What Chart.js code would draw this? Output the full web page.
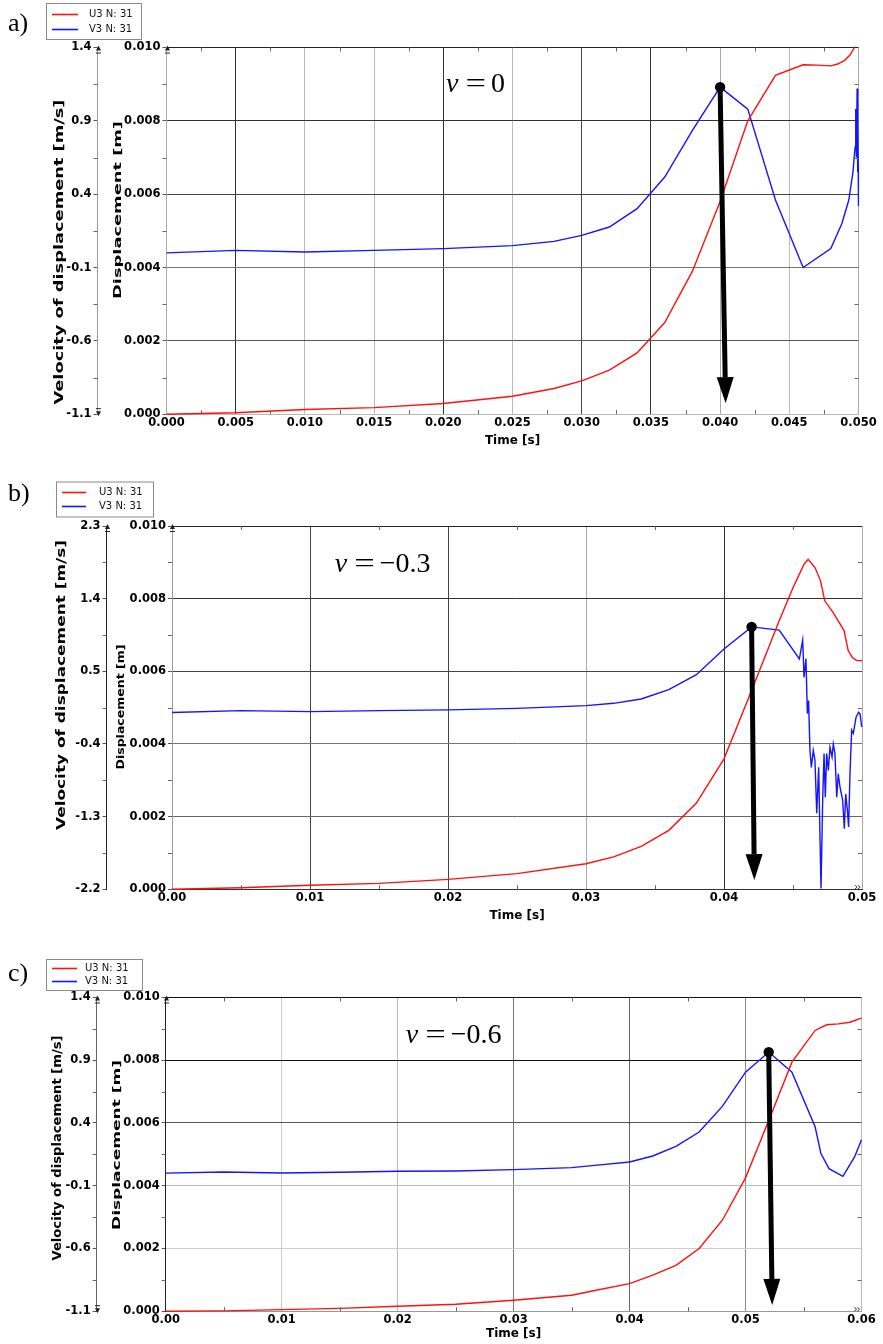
<!DOCTYPE html>
<html>
<head>
<meta charset="utf-8">
<title>U3 / V3 time histories</title>
<script src="https://cdn.jsdelivr.net/npm/chart.js@4/dist/chart.umd.min.js"></script>
<style>
  html,body{margin:0;padding:0;background:#fff;}
  body{width:883px;height:1344px;position:relative;overflow:hidden;}
  canvas{position:absolute;left:0;display:block;}
</style>
</head>
<body>
<canvas id="chartA" width="883" height="460" style="top:0"></canvas>
<canvas id="chartB" width="883" height="480" style="top:460px"></canvas>
<canvas id="chartC" width="883" height="404" style="top:940px"></canvas>
<script>
/* U3 (displacement) and V3 (velocity) vs time, three Poisson ratios */

const seriesLabels = ['U3 N: 31', 'V3 N: 31'];
const dispTicks = [0, 0.002, 0.004, 0.006, 0.008, 0.010];

// a) nu = 0
const timeTicksA = [0, 0.005, 0.010, 0.015, 0.020, 0.025, 0.030, 0.035, 0.040, 0.045, 0.050];
const velTicksA = [-1.1, -0.6, -0.1, 0.4, 0.9, 1.4];
const timeA_U3 = [0, 0.005, 0.010, 0.015, 0.020, 0.025, 0.028, 0.030, 0.032, 0.034, 0.036, 0.038, 0.040, 0.042, 0.044, 0.046, 0.047, 0.048, 0.0485, 0.049, 0.0494, 0.0497, 0.050];
const dispA_U3 = [0, 0.00004, 0.00013, 0.00018, 0.00029, 0.00049, 0.0007, 0.00091, 0.0012, 0.00167, 0.0025, 0.0039, 0.0058, 0.0080, 0.00924, 0.00953, 0.00952, 0.0095, 0.00955, 0.00965, 0.0098, 0.0100, 0.0104];
const timeA_V3 = [0, 0.005, 0.010, 0.015, 0.020, 0.025, 0.028, 0.030, 0.032, 0.034, 0.036, 0.038, 0.040, 0.042, 0.044, 0.046, 0.048, 0.0488, 0.0493, 0.0496, 0.04975, 0.0498, 0.04985, 0.0499, 0.04993, 0.04996, 0.04998, 0.0500];
const velA_V3 = [0.0, 0.017, 0.006, 0.017, 0.029, 0.049, 0.078, 0.119, 0.176, 0.301, 0.517, 0.835, 1.13, 0.98, 0.36, -0.10, 0.03, 0.2, 0.36, 0.55, 0.72, 0.98, 0.65, 1.12, 0.55, 0.9, 0.6, 0.32];

// b) nu = -0.3
const timeTicksB = [0, 0.01, 0.02, 0.03, 0.04, 0.05];
const velTicksB = [-2.2, -1.3, -0.4, 0.5, 1.4, 2.3];
const timeB_U3 = [0, 0.005, 0.010, 0.015, 0.020, 0.025, 0.030, 0.032, 0.034, 0.036, 0.038, 0.040, 0.042, 0.044, 0.045, 0.0458, 0.0461, 0.0466, 0.047, 0.0473, 0.0479, 0.0487, 0.049, 0.0493, 0.0496, 0.050];
const dispB_U3 = [0, 0.00004, 0.00011, 0.00016, 0.00027, 0.00043, 0.0007, 0.00089, 0.00118, 0.00162, 0.00237, 0.00359, 0.00547, 0.00739, 0.0083, 0.00895, 0.00908, 0.00885, 0.00849, 0.00794, 0.00762, 0.00712, 0.00657, 0.00638, 0.0063, 0.00629];
const timeB_V3 = [0, 0.005, 0.010, 0.015, 0.020, 0.025, 0.030, 0.032, 0.034, 0.036, 0.038, 0.040, 0.042, 0.044, 0.04546, 0.0457, 0.0458, 0.04594, 0.04604, 0.04613, 0.04623, 0.04633, 0.04647, 0.04659, 0.04672, 0.04686, 0.04696, 0.04703, 0.04715, 0.04725, 0.04734, 0.04744, 0.04756, 0.04768, 0.04783, 0.04792, 0.04804, 0.04817, 0.04828, 0.04841, 0.0486, 0.04872, 0.04882, 0.04894, 0.04903, 0.04913, 0.04925, 0.04937, 0.04957, 0.04976, 0.04986, 0.04998];
const velB_V3 = [-0.01, 0.013, 0.0, 0.013, 0.022, 0.041, 0.075, 0.103, 0.157, 0.273, 0.458, 0.776, 1.05, 1.01, 0.652, 0.887, 0.425, 0.656, -0.024, 0.137, -0.48, -0.69, -0.48, -0.6, -1.26, -0.69, -1.59, -2.19, -1.1, -0.52, -1.06, -0.52, -0.73, -0.44, -0.56, -0.4, -0.52, -1.06, -0.77, -0.94, -1.1, -1.45, -1.02, -1.22, -1.43, -0.77, -0.23, -0.27, -0.07, -0.008, -0.03, -0.19];

// c) nu = -0.6
const timeTicksC = [0, 0.01, 0.02, 0.03, 0.04, 0.05, 0.06];
const velTicksC = [-1.1, -0.6, -0.1, 0.4, 0.9, 1.4];
const timeC_U3 = [0, 0.005, 0.010, 0.015, 0.020, 0.025, 0.030, 0.035, 0.037, 0.040, 0.042, 0.044, 0.046, 0.048, 0.050, 0.052, 0.054, 0.056, 0.057, 0.058, 0.059, 0.060];
const dispC_U3 = [0, 0.00001, 0.00005, 0.00009, 0.00016, 0.00022, 0.00035, 0.00051, 0.00066, 0.00088, 0.00115, 0.00146, 0.0020, 0.0029, 0.00425, 0.00608, 0.00794, 0.00895, 0.00913, 0.00916, 0.00921, 0.00934];
const timeC_V3 = [0, 0.005, 0.010, 0.015, 0.020, 0.025, 0.030, 0.035, 0.037, 0.040, 0.042, 0.044, 0.046, 0.048, 0.050, 0.052, 0.054, 0.056, 0.0565, 0.0572, 0.0584, 0.0594, 0.060];
const velC_V3 = [0.0, 0.009, 0.001, 0.007, 0.015, 0.017, 0.028, 0.044, 0.062, 0.089, 0.137, 0.214, 0.328, 0.532, 0.805, 0.965, 0.805, 0.37, 0.156, 0.036, -0.025, 0.129, 0.267];

const nuLabels = ['0', '\u22120.3', '\u22120.6'];

const RED = '#ff1010';
const BLUE = '#1414ff';
const TICK_FONT = {family:'"DejaVu Sans"', weight:'bold', size:11.5};
const TITLE_FONT = {family:'"DejaVu Sans"', weight:'bold', size:12};
const VEL_TITLE = 'Velocity of displacement [m/s]';
const DISP_TITLE = 'Displacement [m]';

function pts(ts, vs){
  return ts.map((t,i)=>({x:t, y:vs[i]}));
}

function halfSteps(ticks){
  const out = [];
  for(let i=0;i<ticks.length-1;i++) out.push((ticks[i]+ticks[i+1])/2);
  return out;
}

// tiny arrowhead at the end of an axis line, dir -1 = up, 1 = down
function axisEnd(c, x, y, dir){
  c.beginPath();
  c.moveTo(x, y + dir*2);
  c.lineTo(x - 2.5, y - dir*3);
  c.lineTo(x + 2.5, y - dir*3);
  c.closePath();
  c.fill();
  c.beginPath();
  c.moveTo(x - 2.5, y - dir*5.5); c.lineTo(x + 2.5, y - dir*5.5);
  c.stroke();
}

// rotated axis title, stretched along its length to a given span
function sideTitle(c, text, x, yMid, size, span){
  c.save();
  c.font = 'bold ' + size + 'px "DejaVu Sans"';
  const k = span / c.measureText(text).width;
  c.translate(x, yMid);
  c.rotate(-Math.PI/2);
  c.scale(k, 1);
  c.textAlign = 'center';
  c.textBaseline = 'middle';
  c.fillStyle = '#000';
  c.fillText(text, 0, 0);
  c.restore();
}

function decor(p){
  return {
    id:'decor',
    afterDraw(chart){
      const c = chart.ctx, a = chart.chartArea;
      const sx = chart.scales.x, sd = chart.scales.yd, sv = chart.scales.yv;
      c.save();

      // minor ticks on all four sides of the frame and on both axis lines
      c.strokeStyle = '#666'; c.lineWidth = 1;
      c.beginPath();
      halfSteps(p.timeTicks).forEach(t=>{
        const px = Math.round(sx.getPixelForValue(t)) + .5;
        c.moveTo(px, a.bottom); c.lineTo(px, a.bottom - 4);
        c.moveTo(px, a.top); c.lineTo(px, a.top + 4);
      });
      halfSteps(dispTicks).forEach(d=>{
        const py = Math.round(sd.getPixelForValue(d)) + .5;
        c.moveTo(a.right, py); c.lineTo(a.right - 4, py);
        c.moveTo(a.left, py); c.lineTo(a.left - 4, py);
        c.moveTo(sv.right, py); c.lineTo(sv.right - 4, py);
      });
      c.stroke();

      c.fillStyle = '#222'; c.strokeStyle = '#222';
      axisEnd(c, Math.round(sv.right)+.5, a.top, -1);
      axisEnd(c, Math.round(a.left)+.5, a.top, -1);
      if(p.velDownMark) axisEnd(c, Math.round(sv.right)+.5, a.bottom, 1);
      if(p.timeEndMark){
        c.lineWidth = 1;
        c.beginPath();
        [0, 3].forEach(o=>{
          c.moveTo(a.right - 7 + o, a.bottom - 4);
          c.lineTo(a.right - 5 + o, a.bottom - 2);
          c.lineTo(a.right - 7 + o, a.bottom);
        });
        c.stroke();
      }

      // axis titles on the two left scales
      const T = p.titles;
      sideTitle(c, VEL_TITLE, T.velX, T.velMid, T.velSize, T.velSpan);
      sideTitle(c, DISP_TITLE, T.dispX, T.dispMid, T.dispSize, T.dispSpan);

      // legend box
      const L = p.legend;
      c.fillStyle = '#fff';
      c.fillRect(L.x, L.y, L.w, L.h);
      c.strokeStyle = '#8a8a8a'; c.lineWidth = 1;
      c.strokeRect(L.x + .5, L.y + .5, L.w, L.h);
      c.font = '10px "DejaVu Sans"';
      c.textBaseline = 'middle'; c.textAlign = 'left';
      chart.data.datasets.forEach((ds,i)=>{
        const y = Math.round(L.y + L.h*(i ? 0.71 : 0.3)) + .5;
        c.strokeStyle = ds.borderColor; c.lineWidth = 1.6;
        c.beginPath(); c.moveTo(L.x + 6, y); c.lineTo(L.x + L.line, y); c.stroke();
        c.fillStyle = '#111';
        c.fillText(ds.label, L.x + L.text, y);
      });

      // panel letter
      c.fillStyle = '#000';
      c.textBaseline = 'alphabetic';
      c.font = '26px "Liberation Serif"';
      c.fillText(p.letter, 8, p.letterY);

      // Poisson ratio label, placed in data space
      let nx = sx.getPixelForValue(p.nuAt[0]);
      const ny = sd.getPixelForValue(p.nuAt[1]);
      c.font = 'italic 28px "Liberation Serif"';
      c.fillText('\u03bd', nx, ny);
      nx += c.measureText('\u03bd').width + 7;
      c.font = '28px "Liberation Serif"';
      c.save();
      c.translate(nx, ny); c.scale(1.3, 1);
      c.fillText('=', 0, 0);
      c.restore();
      nx += c.measureText('=').width*1.3 + 5;
      c.fillText(p.nu, nx, ny);

      // arrow from the velocity peak down to the time axis
      const x0 = sx.getPixelForValue(p.tV[p.peak]), y0 = sv.getPixelForValue(p.v[p.peak]);
      const x1 = sx.getPixelForValue(p.tip[0]), y1 = sd.getPixelForValue(p.tip[1]);
      const ang = Math.atan2(y1 - y0, x1 - x0), head = 26, half = 8.5;
      const bx = x1 - head*Math.cos(ang), by = y1 - head*Math.sin(ang);
      c.strokeStyle = '#000'; c.lineWidth = 5; c.lineCap = 'butt';
      c.beginPath(); c.moveTo(x0, y0); c.lineTo(bx, by); c.stroke();
      c.fillStyle = '#000';
      c.beginPath();
      c.moveTo(x1, y1);
      c.lineTo(bx + half*Math.sin(ang), by - half*Math.cos(ang));
      c.lineTo(bx - half*Math.sin(ang), by + half*Math.cos(ang));
      c.closePath(); c.fill();
      c.beginPath(); c.arc(x0, y0, 5.2, 0, Math.PI*2); c.fill();

      c.restore();
    }
  };
}

function panelChart(id, p){
  const b = p.box;
  return new Chart(document.getElementById(id), {
    type:'line',
    data:{
      datasets:[
        {label:seriesLabels[0], data:pts(p.tU, p.u), yAxisID:'yd', borderColor:RED, borderWidth:1.4, pointRadius:0, tension:0, clip:1},
        {label:seriesLabels[1], data:pts(p.tV, p.v), yAxisID:'yv', borderColor:BLUE, borderWidth:1.4, pointRadius:0, tension:0, clip:1}
      ]
    },
    options:{
      responsive:false,
      animation:false,
      events:[],
      layout:{padding:{top:b.top, right:b.right, bottom:b.bottom, left:b.left}},
      plugins:{legend:{display:false}, tooltip:{enabled:false}},
      scales:{
        x:{
          type:'linear',
          min:p.timeTicks[0],
          max:p.timeTicks[p.timeTicks.length-1],
          afterBuildTicks:s=>{ s.ticks = p.timeTicks.map(v=>({value:v})); },
          afterFit:s=>{ s.height = b.timeH; },
          ticks:{callback:v=>v.toFixed(p.timeDec), font:TICK_FONT, color:'#000', padding:2, maxRotation:0, autoSkip:false},
          grid:{color:ctx=>p.gridX[ctx.index] || '#bbb', drawTicks:false},
          border:{color:p.borders[2]},
          title:{display:true, text:'Time [s]', font:TITLE_FONT, color:'#000', padding:0}
        },
        yd:{
          type:'linear',
          position:'left',
          weight:0,
          min:0,
          max:0.010,
          afterBuildTicks:s=>{ s.ticks = dispTicks.map(v=>({value:v})); },
          afterFit:s=>{ s.width = b.dispW; },
          ticks:{callback:v=>v.toFixed(3), font:TICK_FONT, color:'#000', padding:2, autoSkip:false},
          grid:{color:ctx=>p.gridY[ctx.index] || '#888', tickColor:'#555', tickLength:4},
          border:{color:p.borders[1]}
        },
        yv:{
          type:'linear',
          position:'left',
          weight:1,
          min:p.velTicks[0],
          max:p.velTicks[p.velTicks.length-1],
          afterBuildTicks:s=>{ s.ticks = p.velTicks.map(v=>({value:v})); },
          afterFit:s=>{ s.width = b.velW; },
          ticks:{callback:v=>v.toFixed(1), font:TICK_FONT, color:'#000', padding:2, autoSkip:false},
          grid:{drawOnChartArea:false, tickColor:'#555', tickLength:4},
          border:{color:p.borders[0]}
        }
      }
    },
    plugins:[decor(p)]
  });
}

panelChart('chartA', {
  tU:timeA_U3, u:dispA_U3, tV:timeA_V3, v:velA_V3,
  timeTicks:timeTicksA, timeDec:3, velTicks:velTicksA,
  box:{top:47.5, right:24.5, bottom:12.2, left:53.4, velW:44.1, dispW:69, timeH:33.6},
  titles:{velX:60, velMid:252, velSize:11.5, velSpan:305, dispX:118, dispMid:210, dispSize:11, dispSpan:178},
  gridX:['#999','#333','#bbb','#bbb','#333','#bbb','#444','#333','#aaa','#bbb','#aaa'],
  gridY:['#999','#555','#777','#444','#333','#222'],
  borders:['#999','#aaa','#bbb'],
  legend:{x:46, y:3, w:95, h:36, line:32, text:43},
  letter:'a)', letterY:31,
  nu:nuLabels[0], nuAt:[0.0202, 0.0088],
  peak:12, tip:[0.0404, 0.0003],
  velDownMark:true, timeEndMark:false
});

panelChart('chartB', {
  tU:timeB_U3, u:dispB_U3, tV:timeB_V3, v:velB_V3,
  timeTicks:timeTicksB, timeDec:2, velTicks:velTicksB,
  box:{top:66, right:21, bottom:17.2, left:55.4, velW:51.1, dispW:65.5, timeH:33.6},
  titles:{velX:62, velMid:225, velSize:11.5, velSpan:290, dispX:121, dispMid:247, dispSize:10, dispSpan:125},
  gridX:['#999','#444','#444','#aaa','#333','#aaa'],
  gridY:['#999','#666','#777','#444','#333','#222'],
  borders:['#222','#999','#333'],
  legend:{x:56, y:21.5, w:97, h:35, line:30, text:43},
  letter:'b)', letterY:40.5,
  nu:nuLabels[1], nuAt:[0.0118, 0.00874],
  peak:12, tip:[0.0422, 0.00025],
  velDownMark:false, timeEndMark:true
});

panelChart('chartC', {
  tU:timeC_U3, u:dispC_U3, tV:timeC_V3, v:velC_V3,
  timeTicks:timeTicksC, timeDec:2, velTicks:velTicksC,
  box:{top:57.5, right:21.5, bottom:3.2, left:51.4, velW:45.3, dispW:69, timeH:29.6},
  titles:{velX:58, velMid:208, velSize:11.5, velSpan:225, dispX:117, dispMid:205, dispSize:11, dispSpan:170},
  gridX:['#999','#ccc','#bbb','#777','#666','#888','#bbb'],
  gridY:['#999','#ccc','#bbb','#555','#111','#111'],
  borders:['#666','#222','#999'],
  legend:{x:46, y:19, w:96, h:31, line:31, text:39},
  letter:'c)', letterY:40.5,
  nu:nuLabels[2], nuAt:[0.0207, 0.00854],
  peak:15, tip:[0.0523, 0.0002],
  velDownMark:true, timeEndMark:true
});
</script>
</body>
</html>
